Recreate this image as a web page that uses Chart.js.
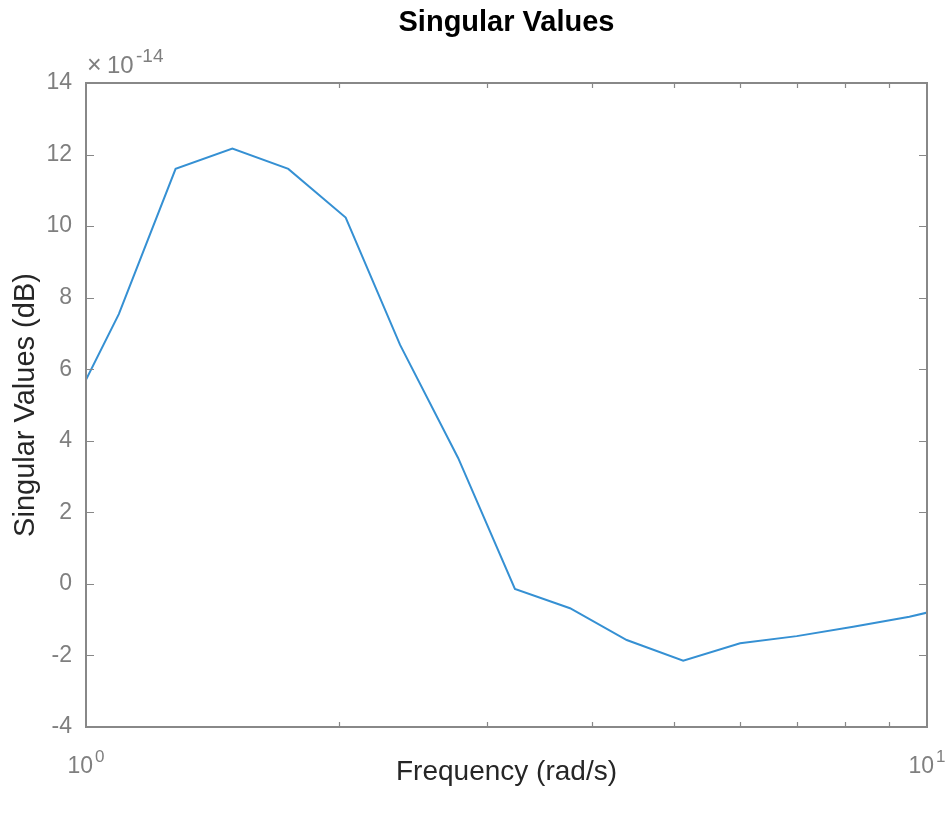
<!DOCTYPE html>
<html>
<head>
<meta charset="utf-8">
<script src="https://cdn.jsdelivr.net/npm/chart.js@4.4.1/dist/chart.umd.min.js"></script>
<style>
  html, body { margin: 0; padding: 0; background: #fff; }
  #wrap { width: 948px; height: 814px; position: relative; }
</style>
</head>
<body>
<div id="wrap"><canvas id="svChart"></canvas></div>
<script>
// frequency points (rad/s), first and last lie just outside the axes and get clipped
const freqs = [0.938, 1.094, 1.278, 1.493, 1.74, 2.036, 2.363, 2.77, 3.236, 3.763, 4.395, 5.13, 5.995, 7.0, 8.17, 9.53, 11.1];
// singular values in units of 1e-14 dB
const svScaled = [4.4, 7.54, 11.6, 12.17, 11.6, 10.24, 6.68, 3.52, -0.14, -0.68, -1.57, -2.15, -1.66, -1.46, -1.2, -0.92, -0.55];
const yTicks = [-4, -2, 0, 2, 4, 6, 8, 10, 12, 14];
const xMajor = [1, 10];
const xMinor = [2, 3, 4, 5, 6, 7, 8, 9];

const FONT = '"Liberation Sans", Arial, Helvetica, sans-serif';
const AXIS_GRAY = '#7f7f7f';
const LABEL_GRAY = '#262626';

const points = freqs.map((f, i) => ({ x: f, y: svScaled[i] }));

// box, inward ticks, log tick labels, exponent and title (matlab look)
const matlabAxes = {
  id: 'matlabAxes',
  afterDraw(chart) {
    const { ctx, chartArea: a, scales: { x, y } } = chart;
    ctx.save();
    ctx.strokeStyle = '#888';
    ctx.lineWidth = 2;
    ctx.strokeRect(a.left, a.top, a.right - a.left, a.bottom - a.top);

    ctx.lineWidth = 1.2;
    ctx.beginPath();
    yTicks.forEach(v => {
      const py = Math.round(y.getPixelForValue(v)) + 0.5;
      ctx.moveTo(a.left, py); ctx.lineTo(a.left + 8, py);
      ctx.moveTo(a.right, py); ctx.lineTo(a.right - 8, py);
    });
    xMinor.forEach(v => {
      const px = Math.round(x.getPixelForValue(v)) + 0.5;
      ctx.moveTo(px, a.bottom); ctx.lineTo(px, a.bottom - 5);
      ctx.moveTo(px, a.top); ctx.lineTo(px, a.top + 5);
    });
    ctx.stroke();

    // 10^n tick labels
    ctx.fillStyle = AXIS_GRAY;
    ctx.textBaseline = 'alphabetic';
    ctx.textAlign = 'left';
    xMajor.forEach(v => {
      const px = x.getPixelForValue(v);
      const exp = String(Math.round(Math.log10(v)));
      ctx.font = '23px ' + FONT;
      const w1 = ctx.measureText('10').width;
      ctx.font = '17px ' + FONT;
      const w2 = ctx.measureText(exp).width;
      const start = px - (w1 + w2 + 2) / 2;
      ctx.font = '23px ' + FONT;
      ctx.fillText('10', start, a.bottom + 46);
      ctx.font = '17px ' + FONT;
      ctx.fillText(exp, start + w1 + 2, a.bottom + 35);
    });

    // exponent above y axis
    ctx.font = '25px ' + FONT;
    ctx.fillText('\u00d7', a.left + 1, a.top - 10);
    ctx.font = '24px ' + FONT;
    ctx.fillText('10', a.left + 21, a.top - 10);
    ctx.font = '19px ' + FONT;
    ctx.fillText('-14', a.left + 50, a.top - 21);

    // title
    ctx.fillStyle = '#000';
    ctx.font = 'bold 29px ' + FONT;
    ctx.textAlign = 'center';
    ctx.textBaseline = 'middle';
    ctx.fillText('Singular Values', (a.left + a.right) / 2, 23);
    ctx.restore();
  }
};

const ctx = document.getElementById('svChart').getContext('2d');
const svChart = new Chart(ctx, {
  type: 'line',
  data: {
    datasets: [{
      label: 'Singular Values',
      data: points,
      borderColor: '#3590d3',
      borderWidth: 2,
      pointRadius: 0,
      tension: 0,
      fill: false
    }]
  },
  options: {
    responsive: true,
    maintainAspectRatio: false,
    animation: false,
    layout: { padding: { left: 0, top: 83, right: 21, bottom: 0 } },
    plugins: {
      legend: { display: false },
      tooltip: { enabled: false }
    },
    scales: {
      x: {
        type: 'logarithmic',
        min: 1,
        max: 10,
        grid: { display: false, drawTicks: false },
        border: { display: false },
        ticks: { display: false },
        title: {
          display: true,
          text: 'Frequency (rad/s)',
          color: LABEL_GRAY,
          font: { family: FONT, size: 28 },
          padding: { top: 0, bottom: 25 }
        },
        afterFit: s => { s.height = 87; }
      },
      y: {
        min: -4,
        max: 14,
        grid: { display: false, drawTicks: false },
        border: { display: false },
        ticks: {
          stepSize: 2,
          padding: 14,
          color: AXIS_GRAY,
          font: { family: FONT, size: 23 }
        },
        title: {
          display: true,
          text: 'Singular Values (dB)',
          color: LABEL_GRAY,
          font: { family: FONT, size: 29 },
          padding: { top: 9, bottom: 0 }
        },
        afterFit: s => { s.width = 86; }
      }
    }
  },
  plugins: [matlabAxes]
});
</script>
</body>
</html>
